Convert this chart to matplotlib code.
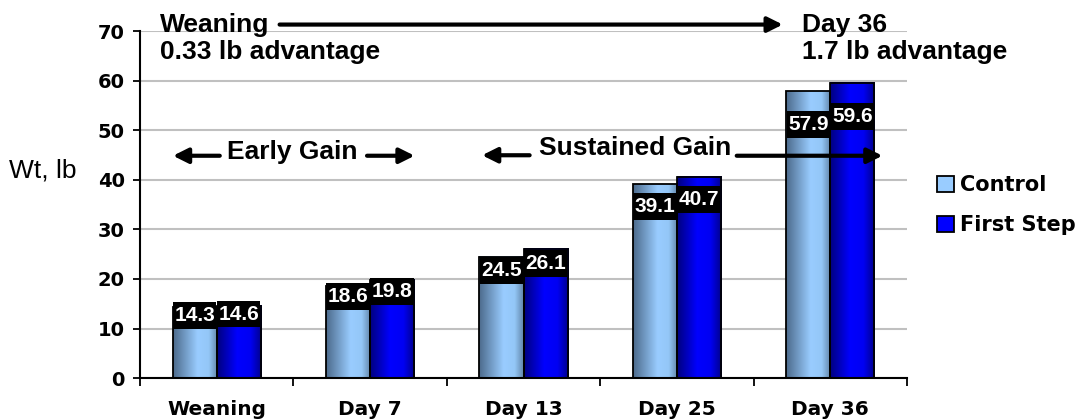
import numpy as np
import matplotlib
matplotlib.use('Agg')
import matplotlib.pyplot as plt
from matplotlib.patches import Patch
from matplotlib.path import Path

# data
categories = ['Weaning', 'Day 7', 'Day 13', 'Day 25', 'Day 36']
control = [14.3, 18.6, 24.5, 39.1, 57.9]
first_step = [14.6, 19.8, 26.1, 40.7, 59.6]
series_names = ['Control', 'First Step']


def shade(t, stops, cols):
    cols = np.array(cols)
    return np.stack([np.interp(t, stops, cols[:, k]) for k in range(3)], axis=-1)


def label_box(x0, y0, width, height, mutation_size):
    # black box, taller than the default square pad
    px, py = 0.06 * mutation_size, 0.19 * mutation_size
    xa, xb, ya, yb = x0 - px, x0 + width + px, y0 - py, y0 + height + py
    return Path([(xa, ya), (xb, ya), (xb, yb), (xa, yb), (xa, ya)], closed=True)


t = np.linspace(0, 1, 64)
grad_ctrl = shade(t, [0, 0.55, 0.8, 1], [(0.30, 0.42, 0.55), (0.60, 0.80, 1.0), (0.58, 0.78, 0.97), (0.38, 0.52, 0.66)])
grad_fs = shade(t, [0, 0.45, 0.75, 1], [(0.0, 0.0, 0.50), (0.0, 0.0, 1.0), (0.0, 0.0, 0.95), (0.0, 0.0, 0.55)])

fig = plt.figure(figsize=(10.86, 4.19), dpi=100)
ax = fig.add_axes([140 / 1086, 1 - 378 / 419, 767 / 1086, 346.5 / 419])

x = np.arange(len(categories))
w = 0.287
bars_c = ax.bar(x - w / 2, control, w, facecolor='none', edgecolor='black', lw=1.3, zorder=4)
bars_f = ax.bar(x + w / 2, first_step, w, facecolor='none', edgecolor='black', lw=1.3, zorder=4)

for bars, grad in [(bars_c, grad_ctrl), (bars_f, grad_fs)]:
    for b in bars:
        x0, h, bw = b.get_x(), b.get_height(), b.get_width()
        ax.imshow(grad[np.newaxis, :, :], extent=[x0, x0 + bw, 0, h], aspect='auto',
                  zorder=3, interpolation='bilinear')

# value labels (white on black boxes)
for i in range(len(categories)):
    for off, vals, z in [(-w / 2, control, 5), (w / 2, first_step, 6)]:
        v = vals[i]
        ax.text(x[i] + off, v * 0.885, '%.1f' % v, ha='center', va='center',
                color='white', fontsize=15, fontweight='bold', family='Liberation Sans',
                zorder=z, bbox=dict(boxstyle=label_box, fc='black', ec='none'))

ax.set_xlim(-0.5, len(categories) - 0.5)
ax.set_ylim(0, 70)
ax.set_yticks(np.arange(0, 71, 10))
ax.set_xticks(x)
ax.set_xticklabels(categories, fontsize=14.5, fontweight='bold', family='DejaVu Sans')
ax.set_xticks(np.arange(-0.5, len(categories), 1), minor=True)
ax.tick_params(axis='x', which='major', length=0, pad=16)
ax.tick_params(axis='x', which='minor', length=6, width=1.3, direction='out')
ax.tick_params(axis='y', length=5, width=1.3, direction='out', pad=6)
for lab in ax.get_yticklabels():
    lab.set_fontsize(14)
    lab.set_fontweight('bold')
    lab.set_family('DejaVu Sans')

ax.yaxis.grid(True, color='#c0c0c0', lw=1.5, zorder=0)
ax.set_axisbelow(True)
for s in ['top', 'right']:
    ax.spines[s].set_visible(False)
for s in ['left', 'bottom']:
    ax.spines[s].set_linewidth(1.5)
    ax.spines[s].set_zorder(5)

afont = dict(fontsize=19, fontweight='bold', family='Liberation Sans', color='black')
arrow = dict(arrowstyle='-|>,head_length=0.9,head_width=0.45', lw=3, color='black',
             shrinkA=0, shrinkB=0)

# top annotation
ax.text(-0.37, 71.4, 'Weaning', ha='left', va='center', clip_on=False, **afont)
ax.text(-0.37, 65.9, '0.33 lb advantage', ha='left', va='center', clip_on=False, **afont)
ax.text(3.815, 71.4, 'Day 36', ha='left', va='center', clip_on=False, **afont)
ax.text(3.815, 65.9, '1.7 lb advantage', ha='left', va='center', clip_on=False, **afont)
ax.annotate('', xy=(3.69, 71.4), xytext=(0.41, 71.4), arrowprops=arrow, annotation_clip=False)

# early gain
ax.text(0.49, 45.6, 'Early Gain', ha='center', va='center', zorder=7, **afont)
ax.annotate('', xy=(-0.285, 44.9), xytext=(0.02, 44.9), arrowprops=arrow, zorder=7)
ax.annotate('', xy=(1.29, 44.9), xytext=(0.98, 44.9), arrowprops=arrow, zorder=7)

# sustained gain
ax.text(2.727, 46.4, 'Sustained Gain', ha='center', va='center', zorder=7, **afont)
ax.annotate('', xy=(1.73, 45.0), xytext=(2.04, 45.0), arrowprops=arrow, zorder=7)
ax.annotate('', xy=(4.34, 44.9), xytext=(3.39, 44.9), arrowprops=arrow, zorder=7,
            annotation_clip=False)

fig.text(43 / 1086, 1 - 170 / 419, 'Wt, lb', ha='center', va='center',
         fontsize=19, family='Liberation Sans')

handles = [Patch(facecolor='#99ccff', edgecolor='black', lw=1.3),
           Patch(facecolor='#0000ff', edgecolor='black', lw=1.3)]
fig.legend(handles, series_names, loc='center left',
           bbox_to_anchor=(937 / 1086, 1 - 205 / 419), frameon=False,
           prop=dict(family='DejaVu Sans', weight='bold', size=15),
           handlelength=0.8, handleheight=0.8, handletextpad=0.3, labelspacing=0.95,
           borderpad=0, borderaxespad=0)

fig.savefig('out.png', dpi=100)
